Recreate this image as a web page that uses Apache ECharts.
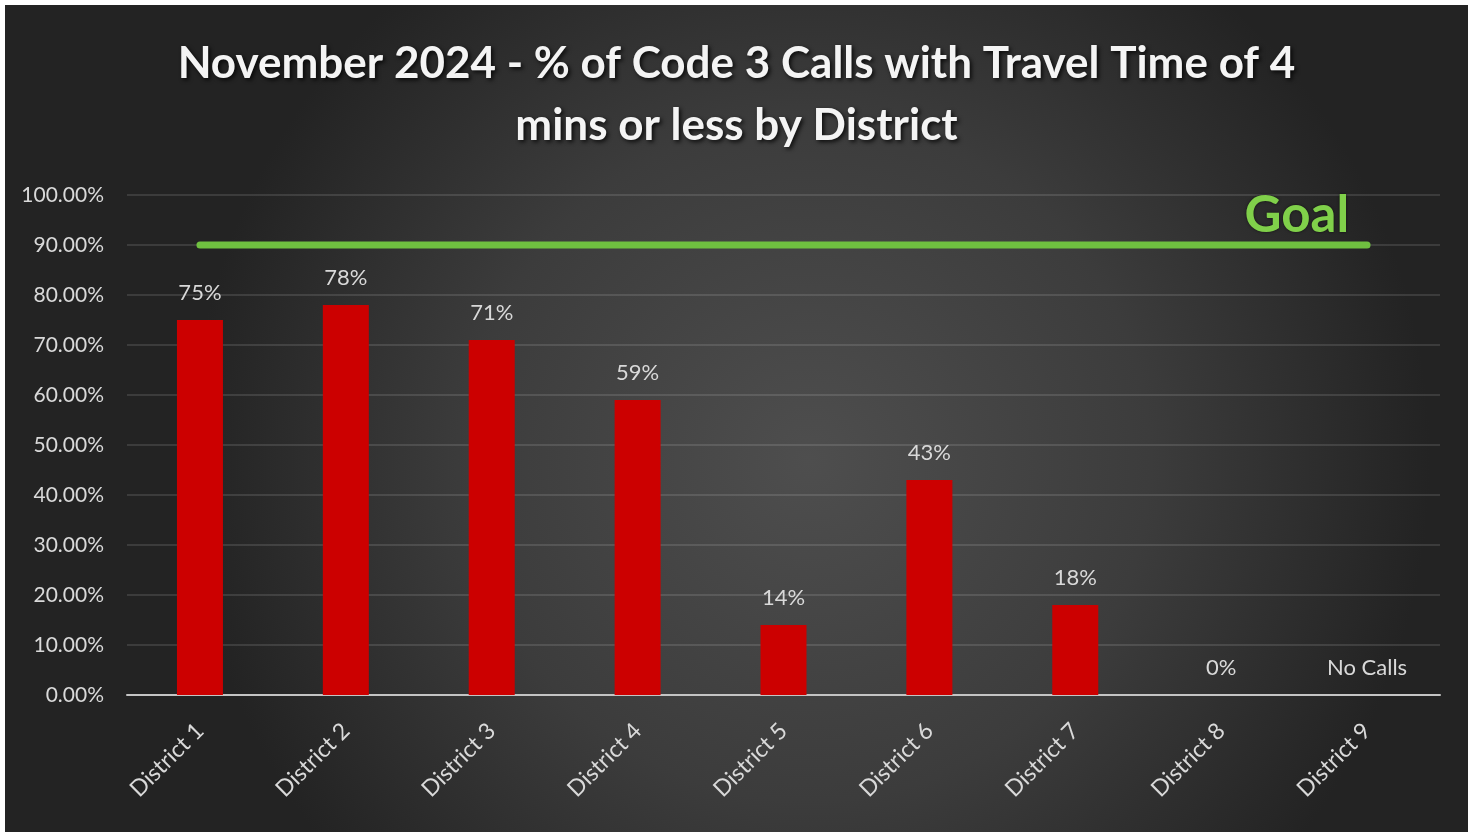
<!DOCTYPE html>
<html>
<head>
<meta charset="utf-8">
<script src="https://cdn.jsdelivr.net/npm/echarts@6/dist/echarts.min.js"></script>
<style>
  html, body { margin: 0; padding: 0; background: #ffffff; }
  #chart { position: absolute; left: 5px; top: 5px; width: 1463px; height: 827px; }
</style>
</head>
<body>
<div id="chart"></div>
<script>
// District travel-time performance, November 2024
const districts = ['District 1', 'District 2', 'District 3', 'District 4', 'District 5',
                   'District 6', 'District 7', 'District 8', 'District 9'];
const pctWithin4Min = [75, 78, 71, 59, 14, 43, 18, 0, 0];
const noCalls = [false, false, false, false, false, false, false, false, true];
const goalPct = [90, 90, 90, 90, 90, 90, 90, 90, 90];
const yTicks = [0, 10, 20, 30, 40, 50, 60, 70, 80, 90, 100];

const textGray = '#d9d9d9';
const font = 'Lato, "Open Sans", sans-serif';

const chart = echarts.init(document.getElementById('chart'));

chart.setOption({
  backgroundColor: {
    type: 'radial', x: 0.55, y: 0.55, r: 0.75,
    colorStops: [
      { offset: 0, color: '#4e4e4e' },
      { offset: 0.55, color: '#3c3c3c' },
      { offset: 1, color: '#232323' }
    ]
  },
  title: {
    text: 'November 2024 - % of Code 3 Calls with Travel Time of 4\nmins or less by District',
    left: 'center',
    top: 23,
    textStyle: {
      color: '#f4f4f4',
      fontFamily: font,
      fontWeight: 'bold',
      fontSize: 44,
      lineHeight: 62,
      textShadowColor: 'rgba(0,0,0,0.8)',
      textShadowBlur: 4,
      textShadowOffsetX: 2,
      textShadowOffsetY: 2
    }
  },
  grid: { left: 122, right: 28, top: 190, bottom: 137, containLabel: false },
  xAxis: {
    type: 'category',
    data: districts,
    axisLine: { show: true, lineStyle: { color: '#c4c4c4', width: 2 } },
    axisTick: { show: false },
    axisLabel: {
      rotate: 45,
      color: textGray,
      fontFamily: font,
      fontSize: 23,
      margin: 32,
      interval: 0
    }
  },
  yAxis: {
    type: 'value',
    min: yTicks[0],
    max: yTicks[yTicks.length - 1],
    interval: 10,
    axisLine: { show: false },
    axisTick: { show: false },
    splitLine: { lineStyle: { color: 'rgba(255,255,255,0.16)', width: 1.5 } },
    axisLabel: {
      color: textGray,
      fontFamily: font,
      fontSize: 21,
      margin: 23,
      formatter: v => v.toFixed(2) + '%'
    }
  },
  series: [
    {
      type: 'bar',
      data: pctWithin4Min,
      barWidth: 46,
      itemStyle: { color: '#cc0000' },
      label: {
        show: true,
        position: 'top',
        distance: 16,
        color: textGray,
        fontFamily: font,
        fontSize: 22,
        formatter: p => noCalls[p.dataIndex] ? 'No Calls' : p.value + '%'
      },
      z: 2
    },
    {
      type: 'line',
      data: goalPct,
      symbol: 'none',
      lineStyle: { color: '#6fc040', width: 7, cap: 'round' },
      endLabel: {
        show: true,
        formatter: 'Goal',
        align: 'right',
        verticalAlign: 'bottom',
        offset: [-26, -4],
        color: '#80d04a',
        fontFamily: font,
        fontWeight: 'bold',
        fontSize: 51,
        textShadowColor: 'rgba(0,0,0,0.6)',
        textShadowBlur: 3
      },
      silent: true,
      z: 3
    }
  ]
});
</script>
</body>
</html>
